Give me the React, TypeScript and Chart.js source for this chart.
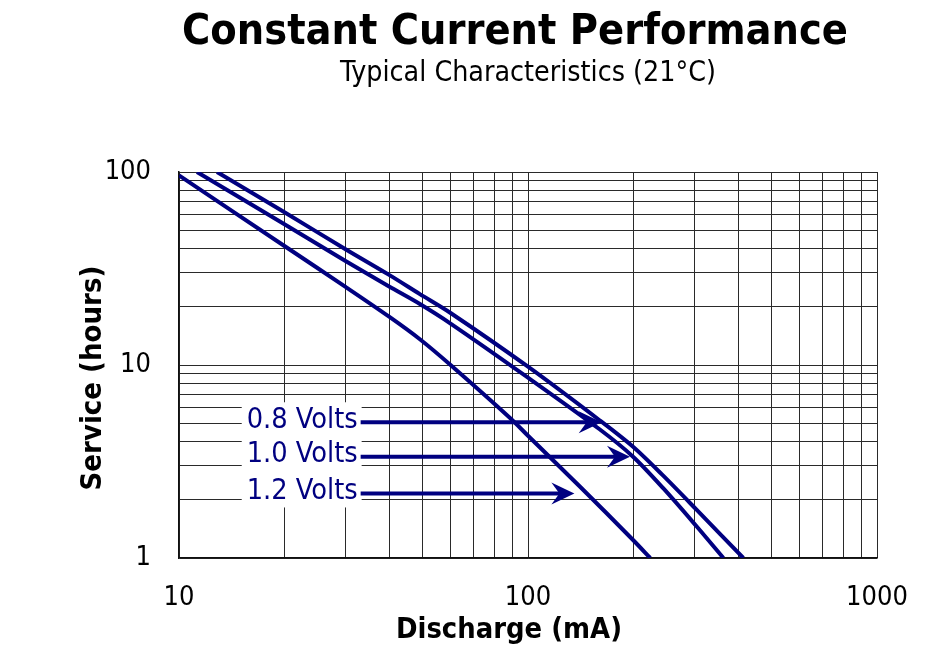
import React, { useEffect, useRef } from "react";
import { Chart, registerables } from "chart.js";

Chart.register(...registerables);

// ---------- data ----------
const seriesNames = ["0.8 Volts", "1.0 Volts", "1.2 Volts"];

const v08Current = [12.85, 20, 30, 40, 49, 60, 100, 160, 200, 244, 304, 414];
const v08Hours = [100, 62, 39.8, 29.3, 23.3, 18.6, 9.8, 5.19, 3.77, 2.67, 1.78, 1];

const v10Current = [11.26, 20, 30, 40, 49, 60, 100, 160, 200, 244, 304, 363];
const v10Hours = [100, 53.8, 34.6, 25.5, 20.7, 16.4, 8.6, 4.66, 3.35, 2.3, 1.46, 1];

const v12Current = [10, 20, 30, 40, 49, 60, 89, 100, 141, 200, 224];
const v12Hours = [96, 41.5, 25.4, 17.8, 13.6, 10, 5.3, 4.3, 2.34, 1.24, 1];

// arrow annotations (one per series name)
const arrowHours = [5.05, 3.35, 2.16];
const arrowTipCurrent = [162.6, 196, 135.8];
const labelRightCurrent = 32.5;

const xGrid = [10, 20, 30, 40, 50, 60, 70, 80, 90, 100, 200, 300, 400, 500, 600, 700, 800, 900, 1000];
const xTickLabels = [10, 100, 1000];
const yGrid = [1, 2, 3, 4, 5, 6, 7, 8, 9, 10, 20, 30, 40, 50, 60, 70, 80, 90, 100];
const yTickLabels = [1, 10, 100];

const titleText = "Constant Current Performance";
const subtitleText = "Typical Characteristics (21°C)";
const xTitle = "Discharge (mA)";
const yTitle = "Service (hours)";

// ---------- style ----------
const NAVY = "#000080";
const FAMILY = "'DejaVu Sans Condensed', 'DejaVu Sans', sans-serif";

function fitSize(ctx: CanvasRenderingContext2D, text: string, weight: string, target: number) {
  ctx.font = `${weight} 100px ${FAMILY}`;
  const w = ctx.measureText(text).width;
  return (100 * target) / w;
}

const decorPlugin = {
  id: "decor",
  afterDatasetsDraw(chart: any) {
    const ctx: CanvasRenderingContext2D = chart.ctx;
    const xs = chart.scales.x;
    const ys = chart.scales.y;
    ctx.save();

    // label block
    const labelSize = fitSize(ctx, seriesNames[0], "normal", 111);
    ctx.font = `normal ${labelSize}px ${FAMILY}`;
    const rightPx = xs.getPixelForValue(labelRightCurrent);
    let maxW = 0;
    seriesNames.forEach((n) => (maxW = Math.max(maxW, ctx.measureText(n).width)));
    const yTop = ys.getPixelForValue(arrowHours[0]);
    const yBot = ys.getPixelForValue(arrowHours[arrowHours.length - 1]);
    ctx.fillStyle = "#fff";
    ctx.fillRect(rightPx - maxW - 5, yTop - 20, maxW + 9, yBot - yTop + 34);

    seriesNames.forEach((name, i) => {
      const y = ys.getPixelForValue(arrowHours[i]);
      const tip = xs.getPixelForValue(arrowTipCurrent[i]);
      ctx.fillStyle = NAVY;
      ctx.textAlign = "right";
      ctx.textBaseline = "middle";
      ctx.font = `normal ${labelSize}px ${FAMILY}`;
      ctx.fillText(name, rightPx, y - 2);
      // shaft
      ctx.strokeStyle = NAVY;
      ctx.lineWidth = 4;
      ctx.beginPath();
      ctx.moveTo(rightPx + 3, y);
      ctx.lineTo(tip - 12, y);
      ctx.stroke();
      // head
      ctx.beginPath();
      ctx.moveTo(tip, y);
      ctx.lineTo(tip - 23, y - 11);
      ctx.lineTo(tip - 15, y);
      ctx.lineTo(tip - 23, y + 11);
      ctx.closePath();
      ctx.fill();
    });

    // titles
    ctx.fillStyle = "#000";
    ctx.textAlign = "center";
    ctx.textBaseline = "middle";
    const ts = fitSize(ctx, titleText, "bold", 666);
    ctx.font = `bold ${ts}px ${FAMILY}`;
    ctx.fillText(titleText, 515, 33);
    const ss = fitSize(ctx, subtitleText, "normal", 376);
    ctx.font = `normal ${ss}px ${FAMILY}`;
    ctx.fillText(subtitleText, 528, 74);

    const xt = fitSize(ctx, xTitle, "bold", 226);
    ctx.font = `bold ${xt}px ${FAMILY}`;
    ctx.fillText(xTitle, (chart.chartArea.left + chart.chartArea.right) / 2 - 19, 631);

    const yt = fitSize(ctx, yTitle, "bold", 225);
    ctx.font = `bold ${yt}px ${FAMILY}`;
    ctx.translate(93, (chart.chartArea.top + chart.chartArea.bottom) / 2 + 13);
    ctx.rotate(-Math.PI / 2);
    ctx.fillText(yTitle, 0, 0);
    ctx.restore();
  },
};

export default function App() {
  const ref = useRef<HTMLCanvasElement | null>(null);
  useEffect(() => {
    if (!ref.current) return;
    const mk = (xsArr: number[], ysArr: number[], label: string) => ({
      label,
      data: xsArr.map((x, i) => ({ x, y: ysArr[i] })),
      showLine: true,
      borderColor: NAVY,
      backgroundColor: NAVY,
      borderWidth: 4,
      pointRadius: 0,
      tension: 0.3,
      fill: false,
    });
    const gridColor = "#2a2a2a";
    const chart = new Chart(ref.current, {
      type: "scatter",
      data: {
        datasets: [
          mk(v08Current, v08Hours, seriesNames[0]),
          mk(v10Current, v10Hours, seriesNames[1]),
          mk(v12Current, v12Hours, seriesNames[2]),
        ],
      },
      options: {
        responsive: false,
        animation: false,
        layout: { padding: { top: 172, right: 67, bottom: 0, left: 0 } },
        plugins: { legend: { display: false }, title: { display: false }, tooltip: { enabled: false } },
        scales: {
          x: {
            type: "logarithmic",
            min: 10,
            max: 1000,
            afterBuildTicks: (s: any) => {
              s.ticks = xGrid.map((v) => ({ value: v }));
            },
            afterFit: (s: any) => {
              s.height = 108;
            },
            grid: { color: gridColor, lineWidth: 1, drawTicks: false },
            border: { color: "#111", width: 1.5 },
            ticks: {
              autoSkip: false,
              maxRotation: 0,
              padding: 24,
              color: "#000",
              font: { family: FAMILY, size: 27 },
              callback: (v: any) => (xTickLabels.includes(Number(v)) ? String(v) : ""),
            },
          },
          y: {
            type: "logarithmic",
            min: 1,
            max: 100,
            afterBuildTicks: (s: any) => {
              s.ticks = yGrid.map((v) => ({ value: v }));
            },
            afterFit: (s: any) => {
              s.width = 179;
            },
            grid: { color: gridColor, lineWidth: 1, drawTicks: false },
            border: { color: "#111", width: 1.5 },
            ticks: {
              autoSkip: false,
              padding: 28,
              color: "#000",
              font: { family: FAMILY, size: 27 },
              callback: (v: any) => (yTickLabels.includes(Number(v)) ? String(v) : ""),
            },
          },
        },
      },
      plugins: [decorPlugin],
    } as any);
    return () => chart.destroy();
  }, []);
  return (
    <div style={{ position: "absolute", left: 0, top: 0, width: 944, height: 666, background: "#fff" }}>
      <canvas ref={ref} width={944} height={666} style={{ display: "block" }} />
    </div>
  );
}
